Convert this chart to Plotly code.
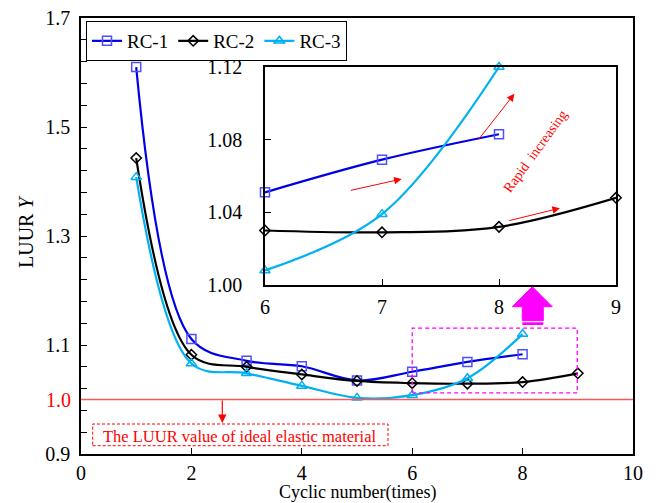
import plotly.graph_objects as go

# ---------------- data ----------------
cycles_a = [1, 2, 3, 4, 5, 6, 7, 8]
cycles_b = [1, 2, 3, 4, 5, 6, 7, 8, 9]
rc1 = [1.610, 1.111, 1.071, 1.061, 1.035, 1.051, 1.069, 1.083]
rc2 = [1.443, 1.082, 1.060, 1.046, 1.034, 1.030, 1.029, 1.032, 1.048]
rc3 = [1.408, 1.066, 1.048, 1.025, 1.003, 1.008, 1.039, 1.120]
series_names = ["RC-1", "RC-2", "RC-3"]
main_yticks = [0.9, 1.1, 1.3, 1.5, 1.7]
inset_yticks = [1.00, 1.04, 1.08, 1.12]
inset_xticks = [6, 7, 8, 9]
ideal_value = 1.0

FONT = "Liberation Serif"
W, H = 658, 503
ML, MR, MT, MB = 81, 25, 18, 49
PW, PH = W - ML - MR, H - MT - MB


def px(x):
    return (x - ML) / PW


def py(y):
    return (H - MB - y) / PH


styles = [
    dict(color="#0000E6", symbol="square-open", mcolor="#4F4FFF", size=9),
    dict(color="#000000", symbol="diamond-open", mcolor="#000000", size=8),
    dict(color="#00B0F0", symbol="triangle-up-open", mcolor="#00B0F0", size=9),
]
data_sets = [(cycles_a, rc1), (cycles_b, rc2), (cycles_a, rc3)]

fig = go.Figure()
for name, (xs, ys), st in zip(series_names, data_sets, styles):
    fig.add_trace(go.Scatter(
        x=xs, y=ys, name=name, mode="lines+markers",
        line=dict(color=st["color"], width=2.2, shape="spline", smoothing=1.0),
        marker=dict(symbol=st["symbol"], size=st["size"], color=st["mcolor"],
                    line=dict(width=1.5, color=st["mcolor"])),
        cliponaxis=False,
    ))
# inset traces
for name, (xs, ys), st in zip(series_names, data_sets, styles):
    xi = [x for x in xs if x >= 6]
    yi = [y for x, y in zip(xs, ys) if x >= 6]
    fig.add_trace(go.Scatter(
        x=xi, y=yi, name=name, mode="lines+markers", showlegend=False,
        xaxis="x2", yaxis="y2",
        line=dict(color=st["color"], width=2.2, shape="spline", smoothing=1.0),
        marker=dict(symbol=st["symbol"], size=st["size"], color=st["mcolor"],
                    line=dict(width=1.5, color=st["mcolor"])),
        cliponaxis=False,
    ))

axis_common = dict(showline=True, linecolor="black", linewidth=1.6, mirror=True,
                   ticks="inside", tickcolor="black", ticklen=6, tickwidth=1.2,
                   showgrid=False, zeroline=False, automargin=False,
                   tickfont=dict(family=FONT, size=20, color="black"))

fig.update_layout(
    width=W, height=H,
    margin=dict(l=ML, r=MR, t=MT, b=MB, autoexpand=False),
    paper_bgcolor="white", plot_bgcolor="white",
    font=dict(family=FONT, color="black"),
    xaxis=dict(range=[0, 10], dtick=2, tick0=0, domain=[0, 1], **axis_common),
    yaxis=dict(range=[0.9, 1.7], tickvals=main_yticks, tickformat=".1f",
               minor=dict(dtick=0.04, tick0=0.9, ticks="inside", ticklen=6, tickcolor="black"),
               ticklabelstandoff=5,
               **axis_common),
    xaxis2=dict(range=[6, 9], tickvals=inset_xticks, anchor="y2",
                domain=[px(265), px(616)], ticklabelstandoff=3, **axis_common),
    yaxis2=dict(range=[1.0, 1.12], tickvals=inset_yticks, tickformat=".2f", anchor="x2",
                domain=[py(285), py(67)], ticklabelstandoff=17, **axis_common),
    legend=dict(orientation="h", x=px(86), y=py(21), xanchor="left", yanchor="top",
                bgcolor="white", bordercolor="black", borderwidth=1,
                font=dict(family=FONT, size=19), itemwidth=30, tracegroupgap=0),
    showlegend=True,
)

shapes = []
# ideal line
shapes.append(dict(type="line", xref="paper", yref="y", x0=0, x1=1, y0=ideal_value, y1=ideal_value,
                   line=dict(color="rgb(245,90,90)", width=1.5)))
# red dashed box
shapes.append(dict(type="rect", xref="paper", yref="paper", x0=px(92.7), x1=px(388), y0=py(445.7), y1=py(424),
                   line=dict(color="red", width=1, dash="3px,2px")))
# magenta dashed box
shapes.append(dict(type="rect", xref="x", yref="y", x0=6, x1=8.99, y0=1.012, y1=1.131,
                   line=dict(color="#FF00FF", width=1.3, dash="4px,3px")))
# magenta arrow
pts = [(532.3, 286.7), (552.3, 306.7), (543.3, 306.7), (543.3, 320.7), (522.3, 320.7),
       (522.3, 306.7), (512.3, 306.7)]
path = "M " + " L ".join(f"{px(a):.5f},{py(b):.5f}" for a, b in pts) + " Z"
shapes.append(dict(type="path", xref="paper", yref="paper", path=path,
                   fillcolor="#FF00FF", line=dict(color="#FF00FF", width=1)))
shapes.append(dict(type="rect", xref="paper", yref="paper", x0=px(522.3), x1=px(543.3),
                   y0=py(325), y1=py(322.3), fillcolor="#FF00FF", line=dict(width=0)))
fig.update_layout(shapes=shapes)

ann = []
# axis titles
ann.append(dict(xref="paper", yref="paper", x=px(26), y=py(232), text="LUUR <i>Y</i>", showarrow=False,
                textangle=-90, xanchor="center", yanchor="middle", font=dict(family=FONT, size=20)))
ann.append(dict(xref="paper", yref="paper", x=px(357), y=py(492), text="Cyclic number(times)", showarrow=False,
                xanchor="center", yanchor="middle", font=dict(family=FONT, size=18)))
# red 1.0 label
ann.append(dict(xref="paper", yref="y", x=0, y=ideal_value, text="1.0", showarrow=False,
                xanchor="right", xshift=-8, font=dict(family=FONT, size=20, color="red")))
# red arrow down from line
ann.append(dict(xref="x", yref="paper", x=(222.3 - ML) / PW * 10, y=py(423), text="", showarrow=True,
                ax=0, ay=-24, arrowhead=2, arrowsize=1.4, arrowwidth=1.2, arrowcolor="red"))
ann.append(dict(xref="paper", yref="paper", x=px(239), y=py(436), text="The LUUR value of ideal elastic material",
                xanchor="center", yanchor="middle",
                showarrow=False, font=dict(family=FONT, size=16.5, color="red")))
# inset arrows
for (sx, sy), (tx, ty) in [((349.4, 190.7), (401.6, 179.0)),
                           ((477.4, 140.9), (514.4, 93.8)),
                           ((507.7, 221.0), (559.9, 208.2))]:
    ann.append(dict(xref="paper", yref="paper", x=px(tx), y=py(ty), text="", showarrow=True,
                    ax=sx - tx, ay=sy - ty, arrowhead=2, arrowsize=1.5, arrowwidth=1,
                    arrowcolor="red"))
ann.append(dict(xref="paper", yref="paper", x=px(535), y=py(151), text="Rapid  increasing",
                xanchor="center", yanchor="middle",
                showarrow=False, textangle=-54, font=dict(family=FONT, size=14, color="red")))
fig.update_layout(annotations=ann)

fig.write_html("out.html")
